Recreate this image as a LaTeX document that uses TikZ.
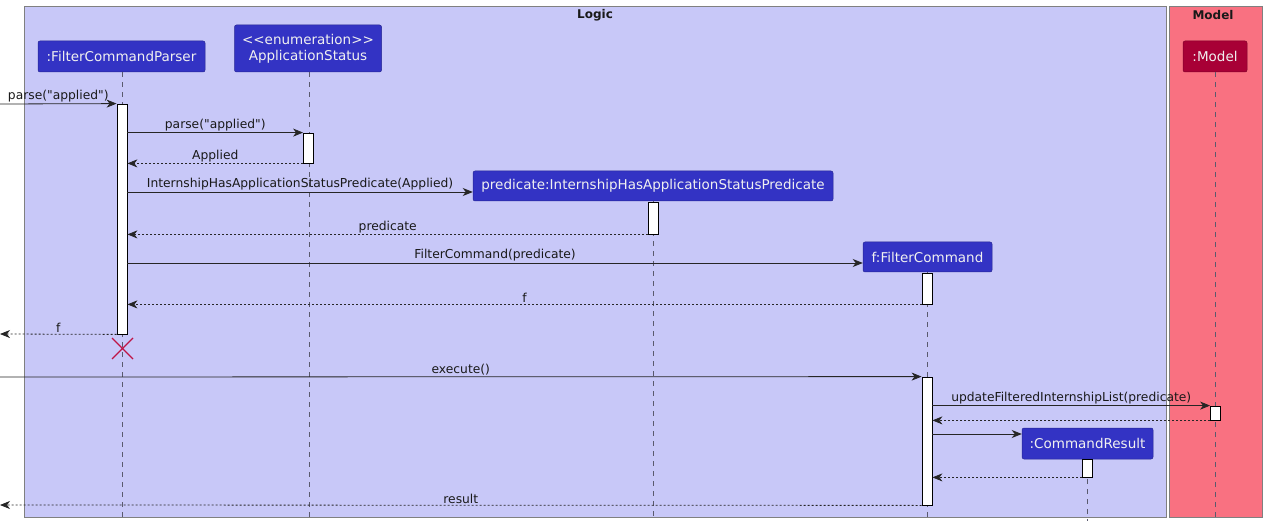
\documentclass[tikz,border=0pt]{standalone}
\usepackage{fontspec}
\setmainfont{DejaVu Sans}[Ligatures=TeXOff]
\usetikzlibrary{arrows.meta,calc}
\definecolor{logicbg}{RGB}{200,200,248}
\definecolor{modelbg}{RGB}{249,113,129}
\definecolor{partblue}{RGB}{51,51,196}
\definecolor{partred}{RGB}{168,0,54}
\definecolor{framegray}{RGB}{128,128,128}
\definecolor{lifegray}{RGB}{90,90,110}
\definecolor{xred}{RGB}{190,20,70}
\begin{document}
\begin{tikzpicture}[x=1pt,y=-1pt,
  part/.style={rectangle, rounded corners=2pt, fill=partblue, draw=partblue!75!black, line width=0.5pt,
    text=white!94!black, font=\fontsize{13.5}{16}\selectfont, inner sep=0pt, align=center},
  redpart/.style={part, fill=partred, draw=partred!75!black},
  act/.style={rectangle, draw=black, fill=white, line width=0.8pt, minimum width=10pt, inner sep=0pt},
  life/.style={draw=lifegray, line width=0.6pt, dash pattern=on 5pt off 5pt},
  msg/.style={draw=black!85, line width=0.8pt, -{Stealth[length=10pt,width=8pt,inset=3pt]}},
  ret/.style={msg, dash pattern=on 2pt off 2pt},
  lbl/.style={font=\fontsize{12.3}{14}\selectfont, text=black!90, inner sep=1.2pt, above},
  ttl/.style={font=\bfseries\fontsize{12}{14}\selectfont, text=black!90}]
\useasboundingbox (0,0) rectangle (1266,529);

% frames
\node[draw=framegray, fill=logicbg, line width=0.8pt, minimum width=1142pt, minimum height=511pt, inner sep=0pt, anchor=north west] (logic) at (24,6) {};
\node[draw=framegray, fill=modelbg, line width=0.8pt, minimum width=93pt, minimum height=511pt, inner sep=0pt, anchor=north west] (model) at (1169,6) {};
\node[ttl] (logict) at (595,15) {Logic};
\node[ttl] (modelt) at (1213,15) {Model};

% participants
\node[part, minimum width=167pt, minimum height=31pt] (p1) at (121.5,56.5) {:FilterCommandParser};
\node[part, minimum width=147pt, minimum height=47pt] (p2) at (308,48.5) {<<enumeration>>\\ApplicationStatus};
\node[part, minimum width=360pt, minimum height=30pt] (p3) at (653,186) {predicate:InternshipHasApplicationStatusPredicate};
\node[part, minimum width=129pt, minimum height=30pt] (p4) at (927.5,257) {f:FilterCommand};
\node[part, minimum width=131pt, minimum height=31pt] (p5) at (1087.5,443.5) {:CommandResult};
\node[redpart, minimum width=64pt, minimum height=31pt] (p6) at (1215,56.5) {:Model};

% lifeline ends
\coordinate (e1) at (122,521);
\coordinate (e2) at (309,521);
\coordinate (e3) at (653,521);
\coordinate (e4) at (927,521);
\coordinate (e5) at (1087,521);
\coordinate (e6) at (1215,521);
\draw[life] (p1.south -| e1) -- (e1);
\draw[life] (p2.south -| e2) -- (e2);
\draw[life] (p3.south -| e3) -- (e3);
\draw[life] (p4.south -| e4) -- (e4);
\draw[life] (p5.south -| e5) -- (e5);
\draw[life] (p6.south -| e6) -- (e6);

% activations
\node[act, minimum height=230pt] (a1) at (122,219) {};
\node[act, minimum height=30pt] (a2) at (308.5,148) {};
\node[act, minimum height=32pt] (a3) at (653.5,218) {};
\node[act, minimum height=31pt] (a4) at (927,288.5) {};
\node[act, minimum height=128pt] (a5) at (927,441) {};
\node[act, minimum height=14pt] (a6) at (1215.5,413) {};
\node[act, minimum height=18pt] (a7) at (1087.5,468) {};

% free ends
\coordinate (in1) at (0,104);
\coordinate (out1) at (0,334);
\coordinate (in2) at (0,377);
\coordinate (out2) at (0,505);

% messages
\draw[msg] (in1) -- (a1.north west) node[lbl, midway] {parse("applied")};
\draw[msg] (a1.east |- a2.north) -- (a2.north west) node[lbl, midway] {parse("applied")};
\draw[ret] (a2.south west) -- (a1.east |- a2.south) node[lbl, midway] {Applied};
\draw[msg] (a1.east |- 0,192) -- (p3.west |- 0,192) node[lbl, midway] {InternshipHasApplicationStatusPredicate(Applied)};
\draw[ret] (a3.south west) -- (a1.east |- a3.south) node[lbl, midway] {predicate};
\draw[msg] (a1.east |- 0,263) -- (p4.west |- 0,263) node[lbl, midway] {FilterCommand(predicate)};
\draw[ret] (a4.south west) -- (a1.east |- a4.south) node[lbl, midway] {f};
\draw[ret] (a1.south west) -- (out1) node[lbl, midway] {f};
\draw[msg] (in2) -- (a5.north west) node[lbl, midway] {execute()};
\draw[msg] (a5.east |- a6.north) -- (a6.north west) node[lbl, midway] {updateFilteredInternshipList(predicate)};
\draw[ret] (a6.south west) -- (a5.east |- a6.south);
\draw[msg] (a5.east |- 0,434) -- (p5.west |- 0,434);
\draw[ret] (a7.south west) -- (a5.east |- a7.south);
\draw[ret] (a5.south west) -- (out2) node[lbl, midway] {result};

% destroy
\coordinate (x1) at (122.5,348.5);
\draw[xred, line width=1.4pt] ($(x1)+(-10.5,-10.5)$) -- ($(x1)+(10.5,10.5)$) ($(x1)+(-10.5,10.5)$) -- ($(x1)+(10.5,-10.5)$);
\end{tikzpicture}
\end{document}
